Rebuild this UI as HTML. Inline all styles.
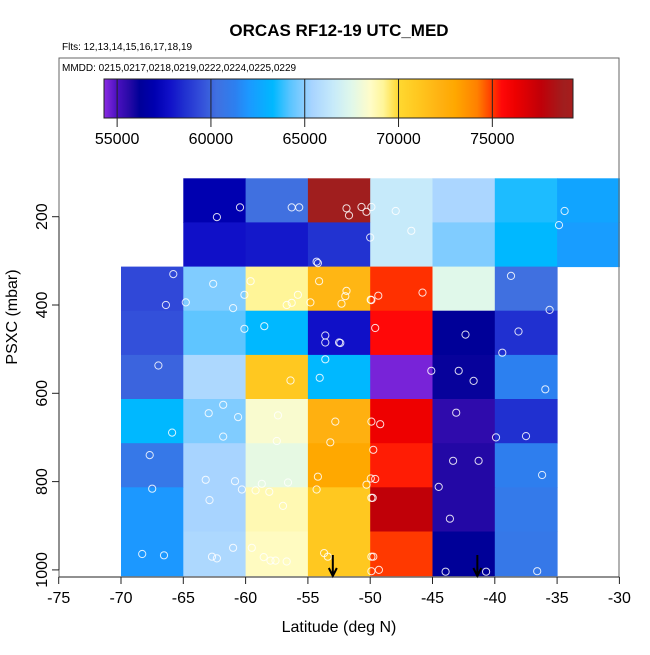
<!DOCTYPE html>
<html><head><meta charset="utf-8"><style>
body{margin:0;background:#fff}
svg text{font-family:"Liberation Sans",Arial,sans-serif}
</style></head><body>
<svg id="chart" width="650" height="650" viewBox="0 0 650 650" xmlns="http://www.w3.org/2000/svg">
<rect width="650" height="650" fill="#fff"/>
<text x="339" y="36" font-size="17" font-weight="bold" text-anchor="middle">ORCAS RF12-19 UTC_MED</text>
<text x="62" y="50" font-size="10">Flts: 12,13,14,15,16,17,18,19</text>
<g id="cells"></g>
<g id="pts"></g>
<g id="arrows"></g>
<rect x="59" y="58" width="560" height="519" fill="none" stroke="#666" stroke-width="1"/>
<text x="62" y="71" font-size="10">MMDD: 0215,0217,0218,0219,0222,0224,0225,0229</text>
<defs><linearGradient id="cbgrad" x1="0" x2="1" y1="0" y2="0"></linearGradient></defs>
<rect x="104" y="79" width="469" height="39" fill="url(#cbgrad)" stroke="#222" stroke-width="1"/>
<g id="cbticks"></g>
<g id="xaxis"></g>
<g id="yaxis"></g>
<text x="339" y="632" font-size="16" text-anchor="middle">Latitude (deg N)</text>
<text x="0" y="0" font-size="16" text-anchor="middle" transform="translate(17,317) rotate(-90)">PSXC (mbar)</text>
</svg>
<script>
const latEdges = [-70,-65,-60,-55,-50,-45,-40,-35,-30];
const pEdges = [113,213,313,413,513,613,713,813,913,1013];
const row0 = [null,57000,60300,78800,66500,65500,63600,62500];
const row1 = [null,57800,58000,58700,66500,64800,63300,62200];
const row2 = [59300,64800,69200,72000,75100,67500,60300,null];
const row3 = [59500,64300,63300,57800,75500,56200,58600,null];
const row4 = [60000,65600,71000,63300,54500,56100,61300,null];
const row5 = [63300,64800,68300,72300,76200,55500,58600,null];
const row6 = [60800,65400,67700,73000,75300,55700,61200,null];
const row7 = [62000,65400,68800,71000,77600,55700,60900,null];
const row8 = [62000,65600,68600,71000,75000,56200,60800,null];
const rows = [row0,row1,row2,row3,row4,row5,row6,row7,row8];
const ptLat = [-60.45,-62.3,-56.3,-55.7,-51.9,-51.7,-50.7,-50.3,-49.9,-50.0,-54.3,-54.2,-65.8,-62.6,-66.4,-64.8,-61.0,-60.1,-59.6,-56.7,-56.3,-55.8,-54.8,-54.1,-52.3,-52.0,-51.9,-49.96,-60.1,-58.5,-53.6,-53.6,-52.5,-52.4,-67.0,-53.6,-54.05,-56.4,-61.8,-62.96,-60.6,-65.9,-61.8,-57.4,-52.8,-57.5,-53.2,-67.7,-67.5,-62.9,-63.2,-60.85,-60.3,-59.2,-58.7,-58.1,-56.6,-57.0,-54.2,-54.3,-50.3,-49.95,-49.9,-68.3,-66.55,-62.7,-62.3,-61.0,-59.5,-58.55,-58.0,-57.6,-56.7,-53.7,-53.4,-49.9,-49.9,-49.75,-49.6,-47.95,-46.7,-49.35,-49.9,-45.8,-42.35,-45.1,-42.9,-41.7,-43.1,-39.9,-49.9,-49.2,-43.35,-41.3,-37.5,-36.2,-38.1,-39.4,-38.7,-35.6,-35.95,-44.5,-43.6,-49.6,-49.8,-49.75,-49.3,-43.95,-40.7,-36.6,-34.4,-34.85];
const ptP = [179,201,179,179,181,197,178,189,178,247,302,305,330,352,400,394,407,377,346,400,395,377,394,346,397,380,368,388,454,448,469,485,485,486,537,523,565,571,626,645,654,689,698,650,664,708,711,740,816,842,796,799,818,820,805,823,802,855,789,818,807,793,837,964,967,970,974,950,950,971,979,979,981,962,970,970,1003,728,452,187,232,379,389,372,467,549,549,572,644,700,664,670,753,753,697,785,460,508,334,411,591,812,884,794,837,970,1000,1004,1004,1003,187,219];
const arrowLat = [-53.0,-41.4];
const cbTicks = [55000,60000,65000,70000,75000];
const xTicks = [-75,-70,-65,-60,-55,-50,-45,-40,-35,-30];
const yTicks = [200,400,600,800,1000];

const NS='http://www.w3.org/2000/svg';
function xs(lat){return 58.7+(lat+75)*12.46;}
function ys(p){return 216.7+(p-200)*0.4415;}
const cbMin=54300, cbMax=79300;
function cbx(v){return 104+(v-cbMin)/(cbMax-cbMin)*469;}
const stops=[[54300,'#8a2be2'],[55000,'#4a10c0'],[55600,'#2a0aa8'],[56200,'#000098'],[57000,'#0000b0'],[57800,'#1010c8'],[58600,'#2030d0'],[59300,'#3048d8'],[60300,'#4070e0'],[61300,'#2c80f0'],[62000,'#1c98ff'],[63300,'#00b8ff'],[64200,'#58c4ff'],[64800,'#80ccff'],[65400,'#a8d4ff'],[66500,'#c6eafa'],[67500,'#e0f8ea'],[68500,'#fffcc8'],[69200,'#fff598'],[70000,'#ffd830'],[71000,'#ffc820'],[72300,'#ffb010'],[73000,'#ffa800'],[74200,'#ff8000'],[75100,'#ff3000'],[75500,'#ff0808'],[76200,'#ee0000'],[77600,'#c00008'],[78800,'#a01e1e'],[79300,'#a81c1c']];
function hex(c){return [1,3,5].map(i=>parseInt(c.substr(i,2),16));}
function cmap(v){
  if(v<=stops[0][0])return stops[0][1];
  for(let i=1;i<stops.length;i++){
    if(v<=stops[i][0]){
      const t=(v-stops[i-1][0])/(stops[i][0]-stops[i-1][0]);
      const a=hex(stops[i-1][1]),b=hex(stops[i][1]);
      return 'rgb('+a.map((x,k)=>Math.round(x+(b[k]-x)*t)).join(',')+')';
    }
  }
  return stops[stops.length-1][1];
}
function mk(tag,attrs,parent){const e=document.createElementNS(NS,tag);for(const k in attrs)e.setAttribute(k,attrs[k]);parent.appendChild(e);return e;}

const grad=document.getElementById('cbgrad');
stops.forEach(s=>{mk('stop',{offset:((s[0]-cbMin)/(cbMax-cbMin)).toFixed(4),'stop-color':s[1]},grad);});

const cells=document.getElementById('cells');
rows.forEach((r,ri)=>{r.forEach((v,ci)=>{
  if(v===null)return;
  const x0=xs(latEdges[ci]),x1=xs(latEdges[ci+1]),y0=ys(pEdges[ri]),y1=ys(pEdges[ri+1]);
  const c=mk('rect',{x:x0.toFixed(1),y:y0.toFixed(1),width:(x1-x0+0.5).toFixed(1),height:(y1-y0+0.5).toFixed(1),fill:cmap(v)},cells);
  
  
});});

const pts=document.getElementById('pts');
ptLat.forEach((lat,i)=>{
  const c=mk('circle',{cx:xs(lat).toFixed(1),cy:ys(ptP[i]).toFixed(1),r:3.6,fill:'none',stroke:'#fff','stroke-opacity':0.85,'stroke-width':1},pts);
  
  
});

const ar=document.getElementById('arrows');
arrowLat.forEach(lat=>{
  const x=xs(lat);
  const g=mk('path',{d:`M${x} 555 L${x} 576 M${x-4} 568 L${x} 576 L${x+4} 568`,stroke:'#000','stroke-width':2,fill:'none'},ar);
  
  
});

const cbt=document.getElementById('cbticks');
cbTicks.forEach(v=>{
  const x=cbx(v);
  mk('line',{x1:x,x2:x,y1:79,y2:127,stroke:'#222','stroke-width':1},cbt);
  const t=mk('text',{x:x,y:144,'font-size':16,'text-anchor':'middle'},cbt);
  t.textContent=v;
  
  
});

const xa=document.getElementById('xaxis');
mk('line',{x1:xs(-75),x2:xs(-30),y1:577,y2:577,stroke:'#222'},xa);
xTicks.forEach(v=>{
  const x=xs(v);
  mk('line',{x1:x,x2:x,y1:577,y2:584,stroke:'#222'},xa);
  const t=mk('text',{x:x,y:603,'font-size':16,'text-anchor':'middle'},xa);
  t.textContent=v;
  
  
});

const ya=document.getElementById('yaxis');
mk('line',{x1:59,x2:59,y1:ys(200),y2:ys(1000),stroke:'#222'},ya);
yTicks.forEach(v=>{
  const y=ys(v);
  mk('line',{x1:52,x2:59,y1:y,y2:y,stroke:'#222'},ya);
  const t=mk('text',{x:0,y:0,'font-size':16,'text-anchor':'middle',transform:`translate(47,${y}) rotate(-90)`},ya);
  t.textContent=v;
  
  
});
</script>
</body></html>
